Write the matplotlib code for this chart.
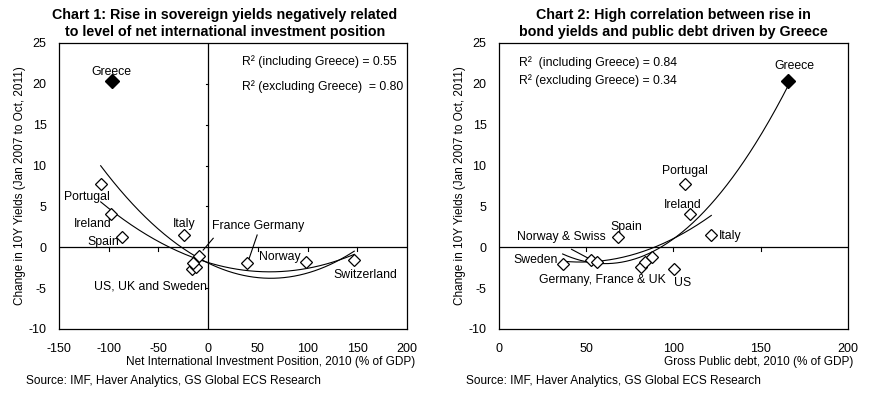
"""Sovereign yields vs NIIP / public debt"""

import numpy as np
import matplotlib
matplotlib.use("Agg")
import matplotlib.pyplot as plt

plt.rcParams['font.family'] = ['Liberation Sans', 'DejaVu Sans']
plt.rcParams['axes.unicode_minus'] = False

# chart 1 : net international investment position vs change in 10Y yield
c1_names = ['Greece', 'Portugal', 'Ireland', 'Spain', 'Italy', 'France', 'Germany',
            'US', 'UK', 'Sweden', 'Norway', 'Switzerland']
c1_niip = [-96.4, -108.1, -97.4, -86.4, -24.1, -9.3, 38.6,
           -16.7, -12.0, -15.6, 98.9, 147.0]
c1_dy = [20.4, 7.8, 4.1, 1.2, 1.5, -1.07, -1.9,
         -2.7, -2.45, -1.97, -1.8, -1.56]

# chart 2 : gross public debt vs change in 10Y yield
c2_names = ['Greece', 'Portugal', 'Ireland', 'Italy', 'Spain', 'Sweden', 'Norway',
            'Switzerland', 'UK', 'Germany', 'France', 'US']
c2_debt = [165.8, 106.4, 109.6, 121.7, 68.0, 36.5, 52.9,
           56.2, 81.2, 83.5, 87.5, 100.3]
c2_dy = [20.4, 7.8, 4.1, 1.5, 1.2, -2.0, -1.5,
         -1.8, -2.4, -1.8, -1.15, -2.7]

c1_r2 = ['R\u00b2 (including Greece) = 0.55', 'R\u00b2 (excluding Greece)  = 0.80']
c2_r2 = ['R\u00b2  (including Greece) = 0.84', 'R\u00b2 (excluding Greece) = 0.34']

source = 'Source: IMF, Haver Analytics, GS Global ECS Research'
ylab = 'Change in 10Y Yields (Jan 2007 to Oct, 2011)'

FS = 8.8


def trend(ax, x, y, greece=True):
    x = np.asarray(x)
    y = np.asarray(y)
    if not greece:
        x, y = x[1:], y[1:]
    c = np.polyfit(x, y, 2)
    xs = np.linspace(x.min(), x.max(), 200)
    ax.plot(xs, np.polyval(c, xs), color='black', lw=0.8, zorder=2)


def scatter(ax, x, y):
    ax.plot(x[1:], y[1:], 'D', ms=6, mfc='white', mec='black', mew=0.9, zorder=4)
    ax.plot(x[0], y[0], 'D', ms=7.5, mfc='black', mec='black', zorder=4)


def frame(ax, xlim, xticks, xlabel, xl_x):
    ax.set_xlim(*xlim)
    ax.set_ylim(-10, 25)
    ax.set_xticks(xticks)
    ax.set_yticks(range(-10, 30, 5))
    ax.tick_params(length=0, labelsize=9)
    ax.tick_params(axis='x', pad=10)
    ax.tick_params(axis='y', pad=9)
    for s in ax.spines.values():
        s.set_linewidth(0.9)
    ax.axhline(0, color='black', lw=0.9, zorder=1)
    # little ticks hanging from the zero line
    for t in xticks[1:-1]:
        ax.plot([t, t], [0, -0.45], color='black', lw=0.8, zorder=1)
    ax.set_ylabel(ylab, fontsize=8.5, labelpad=2)
    ax.set_xlabel(xlabel, fontsize=8.5, loc='right', labelpad=1)
    ax.xaxis.label.set_x(xl_x)


fig = plt.figure(figsize=(8.72, 3.94), dpi=100)

# ---------------- chart 1
ax1 = fig.add_axes([0.0677, 0.165, 0.399, 0.726])
frame(ax1, (-150, 200), list(range(-150, 250, 50)),
      'Net International Investment Position, 2010 (% of GDP)', 1.023)
ax1.axvline(0, color='black', lw=0.9, zorder=1)
for t in range(-5, 25, 5):
    ax1.plot([0, -2.2], [t, t], color='black', lw=0.8, zorder=1)
trend(ax1, c1_niip, c1_dy, True)
trend(ax1, c1_niip, c1_dy, False)
scatter(ax1, c1_niip, c1_dy)
ax1.set_title('Chart 1: Rise in sovereign yields negatively related\n'
              'to level of net international investment position',
              fontsize=10.3, fontweight='bold', pad=5, linespacing=1.25, x=0.476)

lab1 = [('Greece', -97, 21.5, 'center'), ('Portugal', -121.5, 6.2, 'center'),
        ('Ireland', -116, 2.9, 'center'), ('Spain', -106, 0.7, 'center'),
        ('Italy', -24, 2.9, 'center'), ('France Germany', 3.8, 2.6, 'left'),
        ('Norway', 72, -1.15, 'center'), ('Switzerland', 158.5, -3.4, 'center'),
        ('US, UK and Sweden', -1.5, -4.75, 'right')]
for s, x, y, ha in lab1:
    ax1.text(x, y, s, fontsize=FS, ha=ha, va='center', zorder=5)
ax1.plot([-5, 5.1], [-0.34, 1.1], color='black', lw=0.8)
ax1.plot([41.3, 49.3], [-1.35, 1.5], color='black', lw=0.8)
ax1.text(34, 22.7, c1_r2[0], fontsize=FS, va='center')
ax1.text(34, 19.6, c1_r2[1], fontsize=FS, va='center')

# ---------------- chart 2
ax2 = fig.add_axes([0.5722, 0.165, 0.4002, 0.726])
frame(ax2, (0, 200), list(range(0, 250, 50)),
      'Gross Public debt, 2010 (% of GDP)', 1.017)
trend(ax2, c2_debt, c2_dy, True)
trend(ax2, c2_debt, c2_dy, False)
scatter(ax2, c2_debt, c2_dy)
ax2.set_title('Chart 2: High correlation between rise in\n'
              'bond yields and public debt driven by Greece',
              fontsize=10.3, fontweight='bold', pad=5, linespacing=1.25)

lab2 = [('Greece', 169.2, 22.2, 'center'), ('Portugal', 106.4, 9.3, 'center'),
        ('Ireland', 105.3, 5.2, 'center'), ('Italy', 126.3, 1.4, 'left'),
        ('Spain', 73.2, 2.5, 'center'), ('Norway & Swiss', 35.5, 1.2, 'center'),
        ('Sweden', 21.2, -1.55, 'center'), ('Germany, France & UK', 59.4, -4.0, 'center'),
        ('US', 105.3, -4.4, 'center')]
for s, x, y, ha in lab2:
    ax2.text(x, y, s, fontsize=FS, ha=ha, va='center', zorder=5)
ax2.plot([41.6, 53.1], [-0.25, -1.56], color='black', lw=0.8)
ax2.text(11.5, 22.55, c2_r2[0], fontsize=FS, va='center')
ax2.text(11.5, 20.35, c2_r2[1], fontsize=FS, va='center')

fig.text(26 / 872, 1 - 381 / 394, source, fontsize=8.6, va='center')
fig.text(466 / 872, 1 - 381 / 394, source, fontsize=8.6, va='center')

fig.savefig('out.png', dpi=100)
